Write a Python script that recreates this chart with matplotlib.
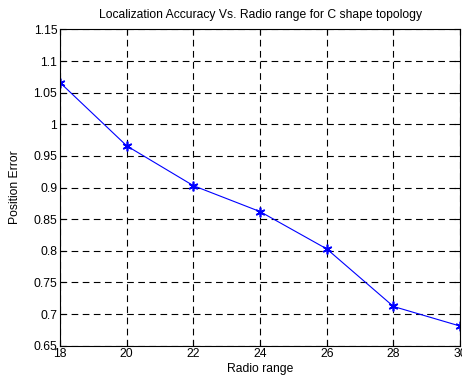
import matplotlib
matplotlib.use('Agg')
import matplotlib.pyplot as plt

radio_range = [18, 20, 22, 24, 26, 28, 30]
position_error = [1.066, 0.966, 0.903, 0.862, 0.803, 0.712, 0.681]
x_ticks = [18, 20, 22, 24, 26, 28, 30]
y_ticks = [0.65, 0.7, 0.75, 0.8, 0.85, 0.9, 0.95, 1, 1.05, 1.1, 1.15]
y_labels = ['0.65', '0.7', '0.75', '0.8', '0.85', '0.9', '0.95', '1', '1.05', '1.1', '1.15']

plt.rcParams['font.family'] = ['Liberation Sans', 'DejaVu Sans']
plt.rcParams['font.size'] = 8.7

fig = plt.figure(figsize=(4.62, 3.76), dpi=100)
ax = fig.add_axes([0.130, 0.0806, 0.866, 0.841])

ax.plot(radio_range, position_error, color='b', marker=(6, 2, 0), markersize=7,
        markeredgewidth=1.2, linewidth=0.8)

ax.set_xlim(18, 30)
ax.set_ylim(0.65, 1.15)
ax.set_xticks(x_ticks)
ax.set_yticks(y_ticks)
ax.set_yticklabels(y_labels)
ax.grid(True, color='black', linestyle=(0, (6, 4)), linewidth=0.8)
ax.tick_params(direction='in', length=4, width=0.8, top=True, right=True, pad=2)
for s in ax.spines.values():
    s.set_linewidth(0.8)

ax.set_xlabel('Radio range', labelpad=2)
ax.set_ylabel('Position Error', labelpad=9)
ax.set_title('Localization Accuracy Vs. Radio range for C shape topology', fontsize=8.7, pad=8)

fig.savefig('out.png', dpi=100)
